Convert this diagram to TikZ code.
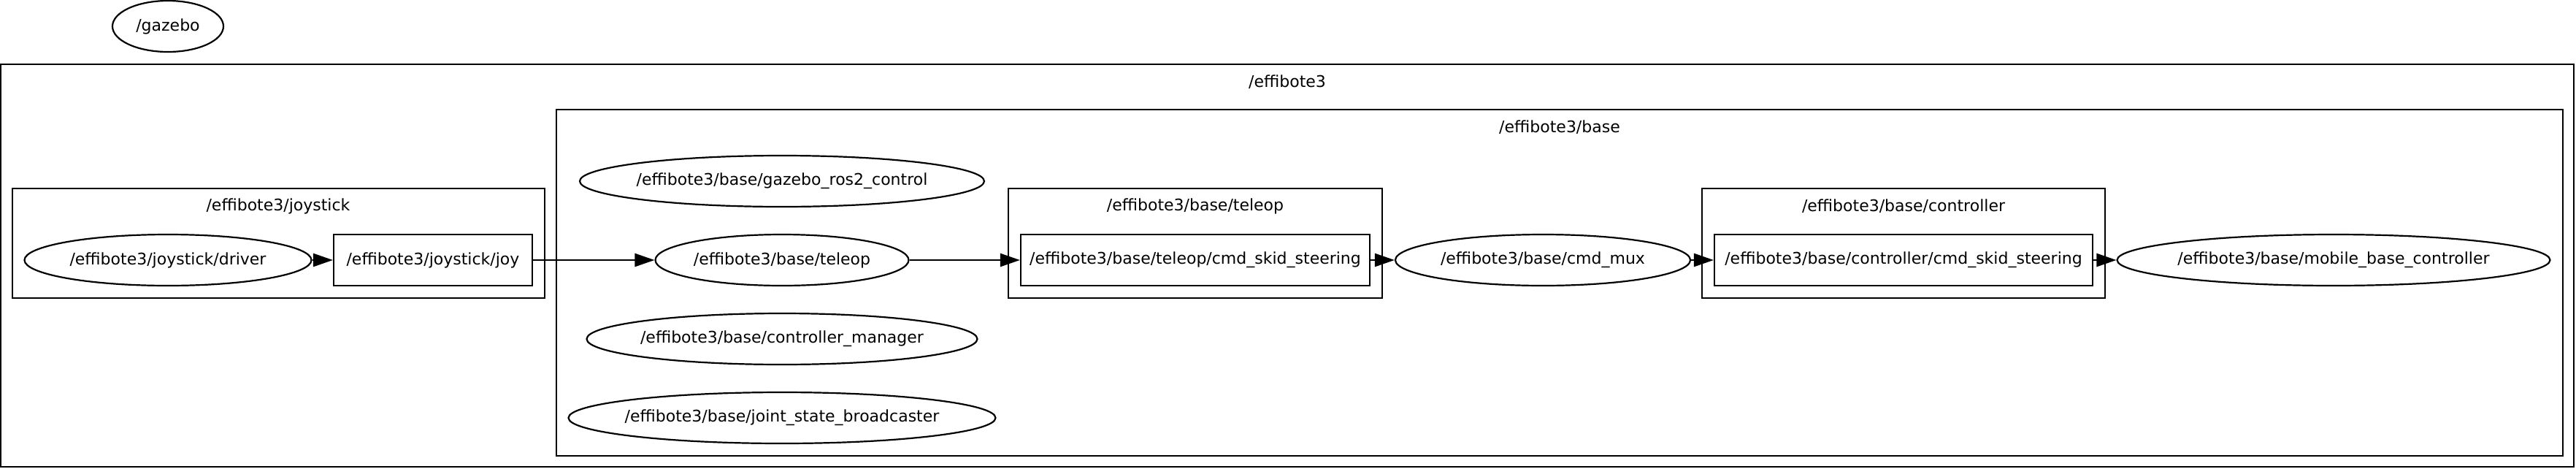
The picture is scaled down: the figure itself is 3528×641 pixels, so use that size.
\documentclass[tikz,border=0pt]{standalone}
\usepackage{fontspec}
\setmainfont{DejaVu Sans}
\usetikzlibrary{arrows.meta,shapes.geometric}
\tikzset{nd/.style={draw,ellipse,line width=2.2pt,inner sep=0pt,inner xsep=-10pt,minimum height=70pt},tp/.style={draw,rectangle,line width=2.2pt,inner sep=0pt,minimum height=70pt},cl/.style={line width=2.5pt},ttl/.style={inner sep=0pt},arr/.style={-{Triangle[length=27pt,width=18pt]},line width=2.5pt}}

\begin{document}
\begin{tikzpicture}[x=1pt,y=-1pt,font=\fontsize{22}{26}\selectfont]
\useasboundingbox(0,0)rectangle(3528,641);
% clusters
\draw[cl](1,88)rectangle(3525,639);\node[ttl](tMain)at(1763,112){/effibote3};
\draw[cl](17,258)rectangle(746,408);\node[ttl](tJoy)at(381,282){/effibote3/joystick};
\draw[cl](762,150)rectangle(3510,624);\node[ttl](tBase)at(2136,174){/effibote3/base};
\draw[cl](1381,258)rectangle(1893,408);\node[ttl](tTeleop)at(1637,282){/effibote3/base/teleop};
\draw[cl](2331,258)rectangle(2883,408);\node[ttl](tCtrl)at(2607,282){/effibote3/base/controller};
% nodes
\node[nd,minimum width=152pt](gazebo)at(230,36){/gazebo};
\node[nd,minimum width=393pt](driver)at(230,356){/effibote3/joystick/driver};
\node[tp,minimum width=272pt](joy)at(593,356){/effibote3/joystick/joy};
\node[nd,minimum width=554pt](gzctl)at(1071,248){/effibote3/base/gazebo\_ros2\_control};
\node[nd,minimum width=347pt](teleop)at(1071,356){/effibote3/base/teleop};
\node[nd,minimum width=535pt](ctlmgr)at(1071,464){/effibote3/base/controller\_manager};
\node[nd,minimum width=585pt](jsb)at(1071,572){/effibote3/base/joint\_state\_broadcaster};
\node[tp,minimum width=478pt](teleopcmd)at(1637,356){/effibote3/base/teleop/cmd\_skid\_steering};
\node[nd,minimum width=404pt](mux)at(2113,356){/effibote3/base/cmd\_mux};
\node[tp,minimum width=518pt](ctrlcmd)at(2607,356){/effibote3/base/controller/cmd\_skid\_steering};
\node[nd,minimum width=593pt](mbc)at(3196,356){/effibote3/base/mobile\_base\_controller};
% edges
\draw[arr](driver)--(joy);\draw[arr](joy)--(teleop);\draw[arr](teleop)--(teleopcmd);
\draw[arr](teleopcmd)--(mux);\draw[arr](mux)--(ctrlcmd);\draw[arr](ctrlcmd)--(mbc);
\end{tikzpicture}
\end{document}
